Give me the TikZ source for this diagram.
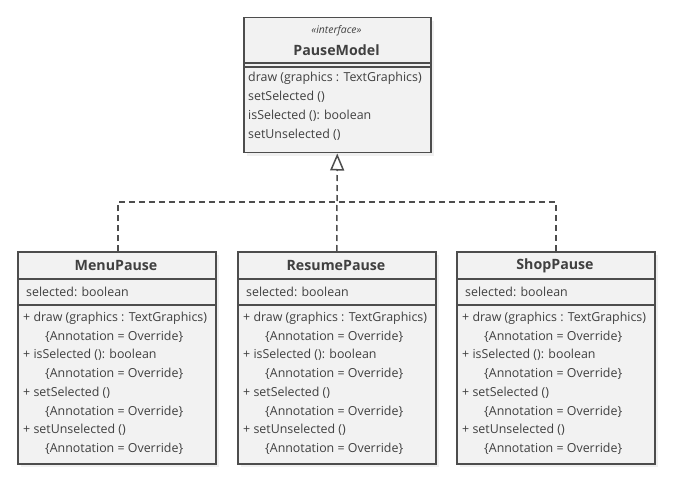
\documentclass[tikz,border=0pt]{standalone}
\usepackage{fontspec}
\setmainfont{Open Sans}
\usetikzlibrary{arrows.meta,shadows}
\definecolor{boxfill}{HTML}{F2F2F2}
\definecolor{boxline}{HTML}{4D4D4D}
\definecolor{txt}{HTML}{404040}
\tikzset{
  cls/.style={draw=boxline, fill=boxfill, line width=1.5pt, inner sep=0pt, anchor=north west,
    drop shadow={opacity=0.12, shadow xshift=3pt, shadow yshift=-3pt}},
  sep/.style={draw=boxline, line width=1.2pt},
  mtxt/.style={anchor=west, inner sep=0pt, text=txt, font=\fontsize{12.4}{14}\selectfont},
  ntxt/.style={inner sep=0pt, text=txt, font=\fontsize{14.2}{16}\selectfont\bfseries},
  stxt/.style={inner sep=0pt, text=txt, font=\fontsize{10.4}{12}\selectfont\itshape},
  dep/.style={draw=boxline, line width=1.5pt, dash pattern=on 6pt off 4pt},
}
\begin{document}
\begin{tikzpicture}[x=1pt,y=-1pt]
\useasboundingbox (0,0) rectangle (675,484);
% interface
\node[cls, minimum width=187pt, minimum height=135pt] (pm) at (243,17) {};
\draw[sep] (243,63) -- (430,63);
\draw[sep] (243,67) -- (430,67);
\node[stxt] (pmst) at (336.5,31) {«interface»};
\node[ntxt] (pmname) at (336.5,50) {PauseModel};
\node[mtxt] (pm1) at (248,78) {draw (graphics : TextGraphics)};
\node[mtxt] (pm2) at (248,97) {setSelected ()};
\node[mtxt] (pm3) at (248,116) {isSelected (): boolean};
\node[mtxt] (pm4) at (248,135) {setUnselected ()};
% subclasses
\foreach \id/\x/\nm in {menu/17/MenuPause, resume/237/ResumePause, shop/456/ShopPause}{
  \node[cls, minimum width=198pt, minimum height=212pt] (\id) at (\x,251) {};
  \draw[sep] (\x,279) -- ++(198,0);
  \draw[sep] (\x,305) -- ++(198,0);
  \node[ntxt] (\id-name) at (\x+99,266) {\nm};
  \node[mtxt] (\id-attr) at (\x+9,292) {selected: boolean};
  \node[mtxt] (\id-m1) at (\x+6,318) {+ draw (graphics : TextGraphics)};
  \node[mtxt] (\id-a1) at (\x+28,337) {\{Annotation = Override\}};
  \node[mtxt] (\id-m2) at (\x+6,355) {+ isSelected (): boolean};
  \node[mtxt] (\id-a2) at (\x+28,374) {\{Annotation = Override\}};
  \node[mtxt] (\id-m3) at (\x+6,393) {+ setSelected ()};
  \node[mtxt] (\id-a3) at (\x+28,412) {\{Annotation = Override\}};
  \node[mtxt] (\id-m4) at (\x+6,430) {+ setUnselected ()};
  \node[mtxt] (\id-a4) at (\x+28,449) {\{Annotation = Override\}};
}
% connectors
\coordinate (bus) at (336.5,202);
\coordinate (mtop) at (118,251);
\coordinate (stop) at (556,251);
\draw[dep] (mtop) |- (bus) -| (stop);
\draw[dep, -{Triangle[open, length=17pt, width=14pt, line width=1.5pt, fill=white]}] (resume.north) -- (pm.south);
\end{tikzpicture}
\end{document}
